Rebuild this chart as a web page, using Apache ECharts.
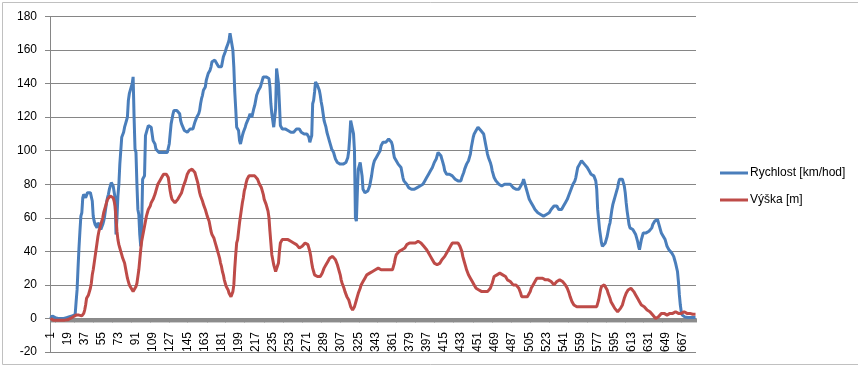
<!DOCTYPE html>
<html>
<head>
<meta charset="utf-8">
<script src="https://cdn.jsdelivr.net/npm/echarts@6/dist/echarts.min.js"></script>
<style>
html,body{margin:0;padding:0;background:#fff;}
#c{width:858px;height:367px;}
</style>
</head>
<body>
<div id="c"></div>
<script>
var categories = Array.from({length: 680}, function (_, i) { return String(i + 1); });

var yTicks = {min: -20, max: 180, interval: 20};

var seriesNames = ['Rychlost [km/hod]', 'Výška [m]'];

var rychlost = [
0,0.5,1.5,1.8,1,0.5,0.3,0,0,0,
0,0,0,0,0,0,0.3,0.5,0.5,0.8,
1,1.5,1.5,1.5,1.5,2,2.5,10,17,30,
42,52,61,63,72,74,74,72,72,75,
75,75,75,75,70,61,58,56,55,54,
57,57,55,53,53,56,58,61,65,69,
72,74,77,79,81,80,79,79,72,50,
60,73,80,92,93,108,109,111,114,116,
118,120,130,134,134,135,140,144,120,101,
99,80,65,62,50,43,55,83,84,85,
109,110,113,115,115,115,114,114,106,105,
104,101,100,100,99,99,99,99,99,99,
99,99,99,99,99,104,110,116,117,122,
124,125,125,124,124,124,122,118,116,115,
115,112,112,111,111,110,111,113,113,113,
113,114,117,118,120,121,122,124,128,131,
133,136,137,138,142,144,146,147,148,150,
153,154,154,154,153,152,151,150,150,150,
150,150,156,157,159,161,162,164,166,170,
171,171,160,150,135,125,114,113,112,106,
104,103,109,111,112,114,116,117,117,120,
122,121,120,121,125,127,130,133,134,136,
137,138,140,142,144,144,144,144,144,144,
143,138,128,122,118,114,114,125,149,149,
140,128,115,114,113,113,113,113,113,113,
112,111,111,111,111,111,111,111,112,113,
113,113,113,112,111,111,110,110,109,110,
110,110,108,105,107,109,128,130,135,141,
141,139,138,136,133,129,126,122,118,116,
114,111,109,108,105,103,101,100,99,97,
95,94,93,92,92,92,92,92,92,92,
93,93,94,96,100,108,118,119,117,110,
100,60,58,75,89,91,93,92,85,77,
76,75,75,75,76,77,79,82,85,89,
92,94,95,96,97,98,99,100,103,104,
105,105,105,105,105,106,107,108,108,105,
103,99,96,95,94,93,92,91,91,90,
87,84,82,81,81,80,79,78,78,77,
77,77,77,77,77,78,78,79,79,79,
80,80,80,81,82,83,84,85,86,87,
88,89,90,91,93,94,95,97,99,100,
99,97,95,93,91,88,87,86,86,86,
86,86,86,85,85,84,83,83,82,82,
81,81,82,84,85,87,89,90,92,93,
94,95,98,102,105,108,110,111,112,113,
114,113,113,112,112,112,110,107,104,101,
98,96,95,93,91,88,86,84,83,82,
81,81,80,80,79,79,79,80,80,81,
81,80,80,80,80,79,79,78,78,77,
77,77,77,77,78,79,80,81,83,84,
82,77,75,73,71,70,69,68,67,66,
65,64,64,63,63,62,62,61,61,61,
61,61,62,62,63,63,64,65,65,66,
67,67,68,67,66,65,65,65,65,66,
67,68,69,70,71,72,74,75,77,78,
80,81,82,84,85,90,91,92,93,94,
94,93,92,92,91,90,89,88,87,86,
86,85,85,84,82,77,65,59,53,49,
45,43,43,44,45,47,49,52,55,57,
61,65,68,70,72,73,76,78,81,83,
84,84,83,81,79,75,69,64,60,56,
54,54,54,53,53,52,50,48,46,43,
41,44,47,49,51,52,52,51,51,51,
52,52,53,54,56,57,58,59,59,59,
57,55,53,51,50,49,48,47,45,43,
42,41,41,40,39,38,37,35,33,32,
28,22,14,8,4,2,1.5,1,0.8,0.7,
0.7,0.6,0.6,0.6,0.5,0.5,0.5,0.5,0.5,0.5
];

var vyska = [
0,0,-0.5,-1,-1,-1,-1,-1,-1,-1,
-1,-1,-1,-1,-1,-1,-1,-1,-0.8,-0.5,
-0.5,0,0.5,1,1,1,1.5,2,2.5,2.5,
2,2,1.5,1.5,2,3,5,8,12,13,
14,14,18,21,26,29,33,37,41,45,
49,52,54,56,58,60,63,65,67,69,
71,72,72,73,73,73,72,70,67,60,
52,47,44,42,40,38,36,35,33,30,
27,24,22,20,19,18,17,16,15,17,
19,21,25,29,35,41,46,49,52,55,
58,61,63,65,66,67,69,70,71,72,
74,76,78,80,81,82,83,84,85,86,
86,86,86,85,84,80,76,73,71,70,
70,69,69,70,71,72,73,74,75,77,
79,80,82,84,86,87,88,89,89,89,
89,88,87,85,83,81,78,75,73,72,
70,68,67,65,63,61,60,58,55,52,
50,49,48,46,44,42,40,38,36,33,
31,28,26,23,21,19,18,17,15,14,
13,13,16,20,30,38,45,47,52,57,
61,65,69,72,76,78,81,83,84,85,
85,85,85,85,85,85,85,84,83,82,
80,79,78,77,74,71,70,68,66,64,
60,52,45,38,35,32,30,28,28,29,
33,40,45,46,47,47,47,47,47,47,
47,46,46,46,45,45,45,44,44,44,
43,43,42,42,42,43,43,44,45,45,
45,44,43,40,37,33,30,28,26,26,
25,25,25,25,25,26,27,28,30,31,
32,33,34,35,36,36,37,37,37,36,
35,34,32,30,28,26,23,21,20,18,
16,15,13,12,11,9,7,6,5,5,
7,9,11,13,15,16,18,20,21,22,
23,24,25,26,27,27,27,27,28,28,
28,29,29,29,29,30,30,30,29,29,
29,29,29,29,29,29,29,29,29,29,
29,29,33,36,38,39,39,40,40,41,
41,42,42,42,43,44,44,45,45,45,
45,45,45,45,45,45,46,46,46,46,
45,45,44,43,43,42,41,40,39,38,
37,36,35,34,33,33,32,32,32,33,
33,34,35,35,36,37,38,39,40,41,
42,43,44,45,45,45,45,45,45,45,
44,43,42,40,37,35,33,31,29,28,
26,25,24,23,22,21,20,19,18,17,
17,17,17,16,16,16,16,16,16,16,
16,16,17,18,19,21,23,25,26,26,
26,26,27,27,27,27,26,26,25,25,
24,23,23,22,22,21,21,20,20,20,
20,19,19,18,17,15,13,13,13,13,
13,13,13,13,14,16,18,19,20,21,
22,23,24,24,24,24,24,24,24,24,
24,23,23,23,23,23,23,22,21,21,
20,20,21,22,23,23,23,23,23,22,
22,21,20,19,18,17,15,13,12,10,
9,8,7,7,7,7,7,7,7,7,
7,7,7,7,7,7,7,7,7,7,
7,7,7,7,7,7,9,11,14,17,
19,20,20,20,20,19,17,15,14,12,
10,9,8,7,6,5,5,4,4,5,
6,7,8,10,12,13,15,16,17,18,
18,18,18,17,16,15,14,13,12,11,
10,9,8,8,7,7,6,6,5,5,
4,4,3,3,2,1,1,0,0,0,
1,1,2,3,3,3,3,3,3,2,
2,2,3,3,3,3,3,3,4,4,
3,3,3,3,3,4,4,4,3,3,
3,3,3,3,3,3,2.5,2.5,2.5,2.5
];

var chart = echarts.init(document.getElementById('c'), null, {renderer: 'canvas'});
var font = 'Liberation Sans';
chart.setOption({
  animation: false,
  backgroundColor: '#ffffff',
  textStyle: {fontFamily: font},
  grid: {left: 50, right: 162, top: 16.5, bottom: 15, containLabel: false, outerBoundsMode: 'none'},
  legend: {
    orient: 'vertical',
    left: 715,
    top: 162,
    icon: 'rect',
    itemWidth: 28,
    itemHeight: 3,
    itemGap: 15,
    data: seriesNames,
    textStyle: {fontFamily: font, fontSize: 12, color: '#000', padding: [0, 0, 0, -3]}
  },
  xAxis: {
    type: 'category',
    data: categories,
    boundaryGap: true,
    axisLine: {show: true, onZero: true, lineStyle: {color: '#868686', width: 1}},
    axisTick: {show: true, interval: 0, length: 4, lineStyle: {color: '#8c8c8c', width: 1}},
    axisLabel: {interval: 17, rotate: 90, margin: -20, align: 'right', verticalAlign: 'middle',
                fontSize: 12, color: '#000', fontFamily: font},
    splitLine: {show: false}
  },
  yAxis: {
    type: 'value',
    min: yTicks.min,
    max: yTicks.max,
    interval: yTicks.interval,
    axisLine: {show: true, lineStyle: {color: '#868686', width: 1}},
    axisTick: {show: true, length: 5, lineStyle: {color: '#868686'}},
    axisLabel: {margin: 13, fontSize: 12, color: '#000', fontFamily: font},
    splitLine: {show: true, lineStyle: {color: '#868686', width: 1}}
  },
  series: [
    {name: seriesNames[0], type: 'line', data: rychlost, showSymbol: false, symbol: 'none',
     color: '#4a7ebb', lineStyle: {color: '#4a7ebb', width: 3}, z: 3},
    {name: seriesNames[1], type: 'line', data: vyska, showSymbol: false, symbol: 'none',
     color: '#be4b48', lineStyle: {color: '#be4b48', width: 3}, z: 4}
  ],
  graphic: [
    {type: 'polyline', silent: true, shape: {points: [[858, 2.5], [2.5, 2.5], [2.5, 364.5], [858, 364.5]]},
     style: {stroke: '#c0c0c0', fill: null, lineWidth: 1}}
  ]
});
</script>
</body>
</html>
